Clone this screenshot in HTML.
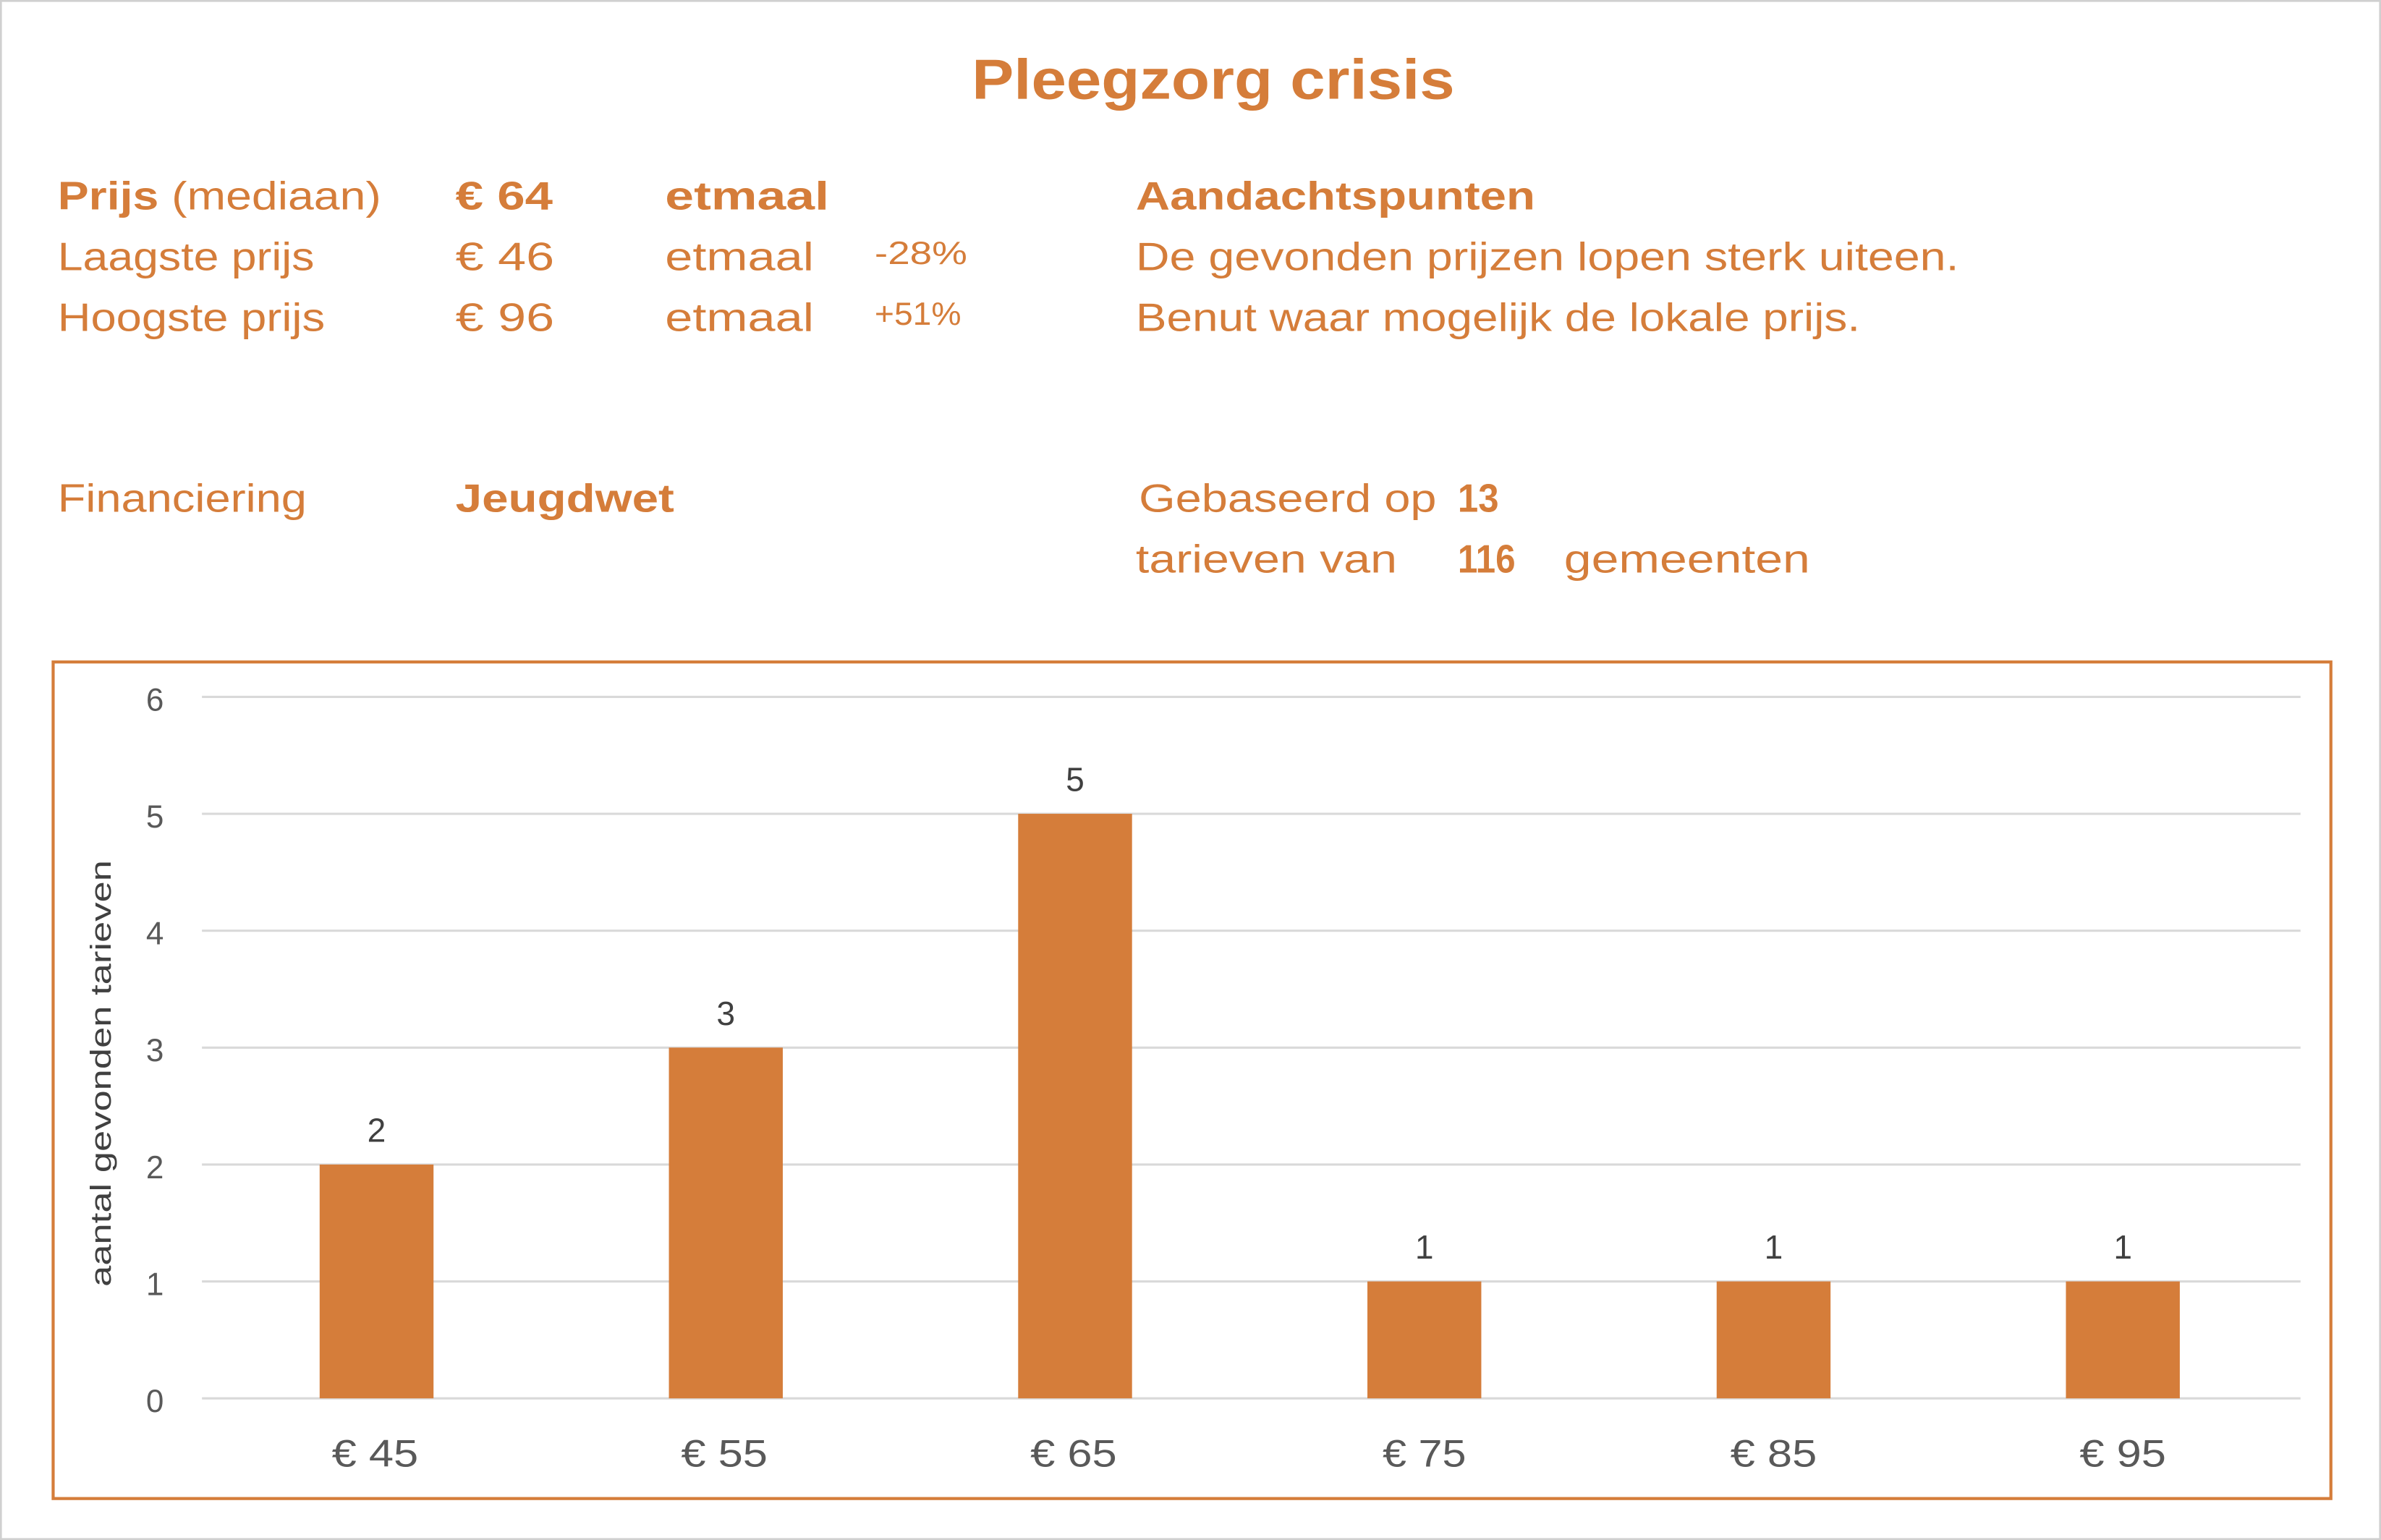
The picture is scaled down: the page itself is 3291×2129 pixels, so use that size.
<!DOCTYPE html>
<html><head><meta charset="utf-8"><style>
html,body{margin:0;padding:0;background:#fff;}
svg{display:block;}
text{font-family:"Liberation Sans",sans-serif;}
</style></head><body>
<svg width="3291" height="2129" viewBox="0 0 1568 1014.3" preserveAspectRatio="none">
<rect x="0.5" y="0.5" width="1567" height="1013.3" fill="#fff" stroke="#d0d0d0" stroke-width="1.5"/>
<g fill="#D57D3A">
<text x="640" y="65" font-size="37" font-weight="bold" textLength="318" lengthAdjust="spacingAndGlyphs">Pleegzorg crisis</text>
<g font-size="26" lengthAdjust="spacingAndGlyphs">
<text x="38" y="138" textLength="213" lengthAdjust="spacingAndGlyphs"><tspan font-weight="bold">Prijs</tspan> (mediaan)</text>
<text x="300" y="138" font-weight="bold" textLength="64" lengthAdjust="spacingAndGlyphs">€ 64</text>
<text x="438" y="138" font-weight="bold" textLength="108" lengthAdjust="spacingAndGlyphs">etmaal</text>
<text x="748" y="138" font-weight="bold" textLength="263" lengthAdjust="spacingAndGlyphs">Aandachtspunten</text>
<text x="38" y="178" textLength="169" lengthAdjust="spacingAndGlyphs">Laagste prijs</text>
<text x="300" y="178" textLength="65" lengthAdjust="spacingAndGlyphs">€ 46</text>
<text x="438" y="178" textLength="98" lengthAdjust="spacingAndGlyphs">etmaal</text>
<text x="748" y="178" textLength="542" lengthAdjust="spacingAndGlyphs">De gevonden prijzen lopen sterk uiteen.</text>
<text x="38" y="218" textLength="176" lengthAdjust="spacingAndGlyphs">Hoogste prijs</text>
<text x="300" y="218" textLength="65" lengthAdjust="spacingAndGlyphs">€ 96</text>
<text x="438" y="218" textLength="98" lengthAdjust="spacingAndGlyphs">etmaal</text>
<text x="748" y="218" textLength="477" lengthAdjust="spacingAndGlyphs">Benut waar mogelijk de lokale prijs.</text>
<text x="38" y="337" textLength="164" lengthAdjust="spacingAndGlyphs">Financiering</text>
<text x="300" y="337" font-weight="bold" textLength="144" lengthAdjust="spacingAndGlyphs">Jeugdwet</text>
<text x="750" y="337" textLength="196" lengthAdjust="spacingAndGlyphs">Gebaseerd op</text>
<text x="960" y="337" font-weight="bold" textLength="27" lengthAdjust="spacingAndGlyphs">13</text>
<text x="748" y="377" textLength="172" lengthAdjust="spacingAndGlyphs">tarieven van</text>
<text x="960" y="377" font-weight="bold" textLength="38" lengthAdjust="spacingAndGlyphs">116</text>
<text x="1030" y="377" textLength="162" lengthAdjust="spacingAndGlyphs">gemeenten</text>
</g>
<text x="576" y="174" font-size="21" textLength="61" lengthAdjust="spacingAndGlyphs">-28%</text>
<text x="576" y="214" font-size="21" textLength="57" lengthAdjust="spacingAndGlyphs">+51%</text>
</g>
<rect x="35" y="436" width="1500" height="551" fill="none" stroke="#D57D3A" stroke-width="2"/>
<g stroke="#d9d9d9" stroke-width="1.5">
<line x1="133" x2="1515" y1="459" y2="459"/>
<line x1="133" x2="1515" y1="536" y2="536"/>
<line x1="133" x2="1515" y1="613" y2="613"/>
<line x1="133" x2="1515" y1="690" y2="690"/>
<line x1="133" x2="1515" y1="767" y2="767"/>
<line x1="133" x2="1515" y1="844" y2="844"/>
<line x1="133" x2="1515" y1="921" y2="921"/>
</g>
<g fill="#595959" font-size="21" text-anchor="middle">
<text x="102" y="468">6</text><text x="102" y="545">5</text><text x="102" y="622">4</text>
<text x="102" y="699">3</text><text x="102" y="776">2</text><text x="102" y="853">1</text><text x="102" y="930">0</text>
</g>
<text transform="translate(73,707) rotate(-90)" fill="#404040" font-size="19" text-anchor="middle" textLength="281" lengthAdjust="spacingAndGlyphs">aantal gevonden tarieven</text>
<g fill="#D57D3A">
<rect x="210.5" y="767" width="75" height="154"/>
<rect x="440.5" y="690" width="75" height="231"/>
<rect x="670.5" y="536" width="75" height="385"/>
<rect x="900.5" y="844" width="75" height="77"/>
<rect x="1130.5" y="844" width="75" height="77"/>
<rect x="1360.5" y="844" width="75" height="77"/>
</g>
<g fill="#404040" font-size="22" text-anchor="middle">
<text x="248" y="752">2</text><text x="478" y="675">3</text><text x="708" y="521">5</text>
<text x="938" y="829">1</text><text x="1168" y="829">1</text><text x="1398" y="829">1</text>
</g>
<g fill="#595959" font-size="25" text-anchor="middle">
<text x="247" y="966" textLength="57" lengthAdjust="spacingAndGlyphs">€ 45</text><text x="477" y="966" textLength="57" lengthAdjust="spacingAndGlyphs">€ 55</text><text x="707" y="966" textLength="57" lengthAdjust="spacingAndGlyphs">€ 65</text>
<text x="938" y="966" textLength="55" lengthAdjust="spacingAndGlyphs">€ 75</text><text x="1168" y="966" textLength="57" lengthAdjust="spacingAndGlyphs">€ 85</text><text x="1398" y="966" textLength="57" lengthAdjust="spacingAndGlyphs">€ 95</text>
</g>
</svg>
</body></html>
